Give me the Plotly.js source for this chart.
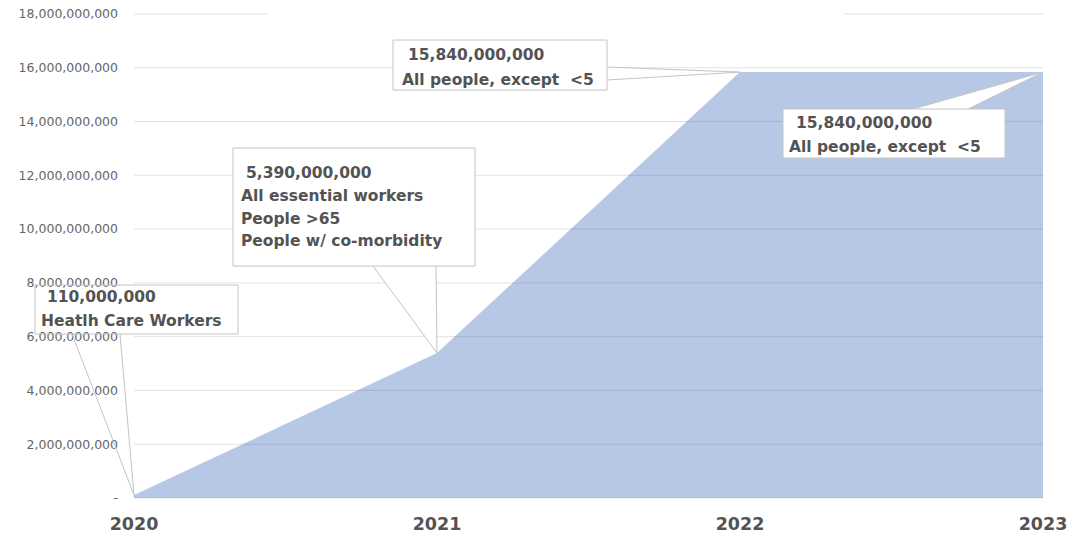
<!DOCTYPE html>
<html>
<head>
<meta charset="utf-8">
<script src="https://cdn.plot.ly/plotly-3.0.1.min.js"></script>
<style>html,body{margin:0;padding:0;background:#fff;}#chart{width:1079px;height:537px;}</style>
</head>
<body>
<div id="chart"></div>
<script>
// ---- data ----
const years = [2020, 2021, 2022, 2023];
const doses = [110000000, 5390000000, 15840000000, 15840000000];
const yTickVals = [0, 2e9, 4e9, 6e9, 8e9, 10e9, 12e9, 14e9, 16e9, 18e9];
const yTickText = ['-', '2,000,000,000', '4,000,000,000', '6,000,000,000', '8,000,000,000',
  '10,000,000,000', '12,000,000,000', '14,000,000,000', '16,000,000,000', '18,000,000,000'];
const xTickText = ['2020', '2021', '2022', '2023'];
const calloutValues = [110000000, 5390000000, 15840000000, 15840000000];
const calloutYears = [2020, 2021, 2022, 2023];
const calloutLines = [
  ['Heatlh Care Workers'],
  ['All essential workers', 'People >65', 'People w/ co-morbidity'],
  ['All people, except  <5'],
  ['All people, except  <5']
];

// ---- layout geometry (pixels) ----
const W = 1079, H = 537, L = 134, R = 1043, T = 14, B = 498;
const xMin = 2020, xMax = 2023, yMax = 18e9;
const px = v => (v - L) / (R - L);
const py = v => (B - v) / (B - T);
const dx = v => (v - xMin) / (xMax - xMin);
const dy = v => v / yMax;

const boxes = [
  {x0: 35,  y0: 285, x1: 238,  y1: 334, fill: 'rgba(255,255,255,0)', numX: 45,  numY: 297, lineX: 39,  lineY: 321, step: 24, wedge: [[72, 334], [120, 334]], wfill: 'rgba(255,255,255,0)'},
  {x0: 233, y0: 148, x1: 475,  y1: 266, fill: '#ffffff', numX: 244, numY: 173, lineX: 239, lineY: 196, step: 22.7, wedge: [[373, 266], [436, 266]], wfill: '#ffffff'},
  {x0: 393, y0: 40,  x1: 607,  y1: 90,  fill: '#ffffff', numX: 406, numY: 55,  lineX: 400, lineY: 80,  step: 24, wedge: [[607, 67], [607, 80]], wfill: '#ffffff'},
  {x0: 783, y0: 109, x1: 1005, y1: 158, fill: '#ffffff', numX: 794, numY: 123, lineX: 787, lineY: 147, step: 24, wedge: [[913, 109], [968, 109]], wfill: '#ffffff'}
];

const esc = s => s.replace(/&/g, '&amp;').replace(/</g, '&lt;').replace(/>/g, '&gt;');
const fmt = v => v.toLocaleString('en-US');

const shapes = [];
// gridlines drawn on top of the area
yTickVals.forEach(v => {
  shapes.push({type: 'line', xref: 'paper', yref: 'paper', x0: 0, x1: 1, y0: dy(v), y1: dy(v),
    line: {color: 'rgba(60,60,60,0.14)', width: 1}, layer: 'above'});
});
// blank strip over the top gridline
shapes.push({type: 'rect', xref: 'paper', yref: 'paper', x0: px(267), x1: px(843), y0: py(18), y1: py(10),
  fillcolor: '#ffffff', line: {width: 0}, layer: 'above'});

const annotations = [];
boxes.forEach((b, i) => {
  const tx = dx(calloutYears[i]), ty = dy(calloutValues[i]);
  const [p1, p2] = b.wedge;
  shapes.push({type: 'path', xref: 'paper', yref: 'paper', layer: 'above',
    path: `M ${px(p1[0])},${py(p1[1])} L ${tx},${ty} L ${px(p2[0])},${py(p2[1])}`,
    fillcolor: b.wfill, line: {color: '#c4c4c4', width: 1}});
  shapes.push({type: 'rect', xref: 'paper', yref: 'paper', layer: 'above',
    x0: px(b.x0), x1: px(b.x1), y0: py(b.y1), y1: py(b.y0),
    fillcolor: b.fill, line: {color: '#c4c4c4', width: 1}});
  const font = {family: 'DejaVu Sans', size: 15.5, color: '#535353', weight: 'bold'};
  annotations.push({xref: 'paper', yref: 'paper', x: px(b.numX), y: py(b.numY), xanchor: 'left', yanchor: 'middle',
    showarrow: false, text: '<b>' + fmt(calloutValues[i]) + '</b>', font: font});
  calloutLines[i].forEach((t, k) => {
    annotations.push({xref: 'paper', yref: 'paper', x: px(b.lineX), y: py(b.lineY + k * b.step), xanchor: 'left', yanchor: 'middle',
      showarrow: false, text: '<b>' + esc(t) + '</b>', font: font});
  });
});

const trace = {
  x: years, y: doses, type: 'scatter', mode: 'lines', fill: 'tozeroy',
  fillcolor: '#b7c8e6', line: {width: 0, color: '#b7c8e6'}, hoverinfo: 'skip'
};

const layout = {
  width: W, height: H,
  margin: {l: L, r: W - R, t: T, b: H - B, pad: 0},
  paper_bgcolor: '#ffffff', plot_bgcolor: '#ffffff',
  showlegend: false,
  xaxis: {range: [xMin, xMax], tickvals: years, ticktext: xTickText, showgrid: false, zeroline: false,
    showline: false, ticks: '', ticklabelstandoff: 13,
    tickfont: {family: 'DejaVu Sans', size: 17.5, color: '#535353', weight: 'bold'}},
  yaxis: {range: [0, yMax], tickvals: yTickVals, ticktext: yTickText, showgrid: false, zeroline: false,
    showline: false, ticks: '', ticklabelstandoff: 15,
    tickfont: {family: 'DejaVu Sans', size: 12.5, color: '#666666'}},
  shapes: shapes,
  annotations: annotations
};

Plotly.newPlot('chart', [trace], layout, {staticPlot: true, displayModeBar: false});
</script>
</body>
</html>
